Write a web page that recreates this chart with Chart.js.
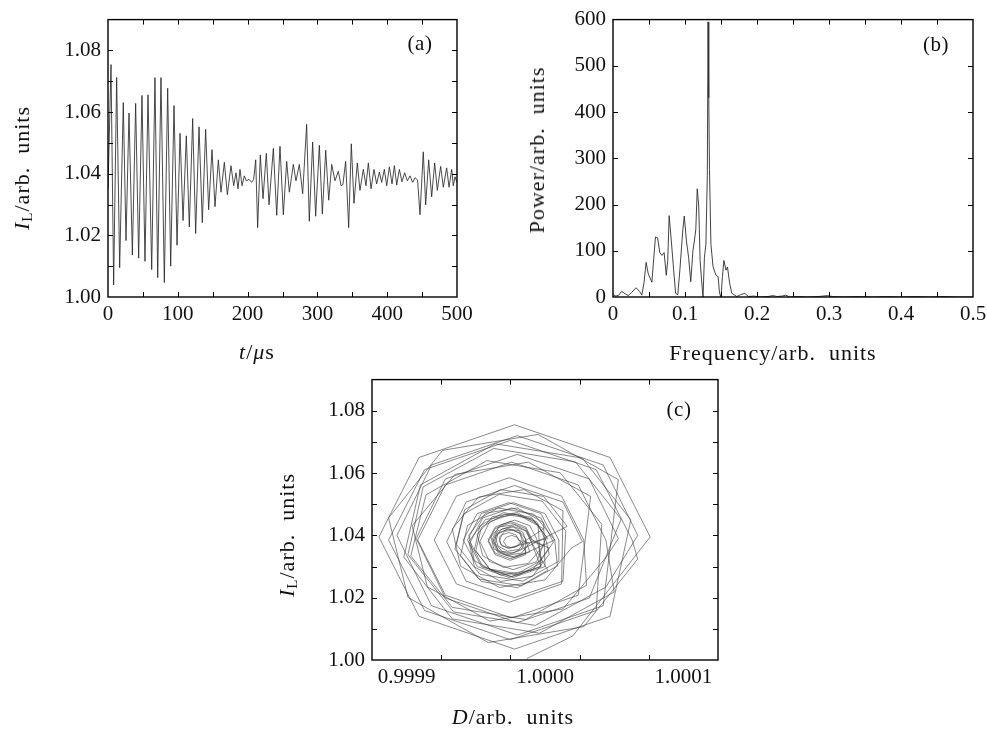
<!DOCTYPE html>
<html><head><meta charset="utf-8">
<script src="https://cdn.jsdelivr.net/npm/chart.js@4.4.1/dist/chart.umd.min.js"></script>
<style>
html,body{margin:0;padding:0;background:#fff;}
#wrap{position:relative;width:987px;height:732px;overflow:hidden;font-family:'Liberation Serif',serif;color:#111;}
canvas{position:absolute;}
.t{position:absolute;font-size:22px;white-space:nowrap;letter-spacing:1px;transform:translate(-50%,-50%);line-height:1;}
.r{transform:translate(-50%,-50%) rotate(-90deg);}
.t i{font-style:italic;}
.t sub{font-size:15px;position:relative;top:3px;vertical-align:baseline;line-height:0;}
.p{letter-spacing:0.5px;font-size:21px;}
</style></head><body>
<div id="wrap">
<canvas id="ca" width="490" height="375" style="left:0;top:0"></canvas>
<canvas id="cb" width="480" height="375" style="left:520px;top:0"></canvas>
<canvas id="cc" width="480" height="372" style="left:280px;top:360px"></canvas>
<div class="t r" style="left:22px;top:168px"><i>I</i><sub>L</sub>/arb.&nbsp; units</div>
<div class="t" style="left:257px;top:352px"><i>t</i>/<i>μ</i>s</div>
<div class="t p" style="left:420px;top:43px">(a)</div>
<div class="t r" style="left:537px;top:150px">Power/arb.&nbsp; units</div>
<div class="t" style="left:773px;top:353px">Frequency/arb.&nbsp; units</div>
<div class="t p" style="left:936px;top:44px">(b)</div>
<div class="t r" style="left:287px;top:535px"><i>I</i><sub>L</sub>/arb.&nbsp; units</div>
<div class="t" style="left:513px;top:717px"><i>D</i>/arb.&nbsp; units</div>
<div class="t p" style="left:679px;top:409px">(c)</div>
</div>
<script>
// ---- panel (a): laser intensity vs time (extrema)
const aTime = [0,4.3,8.1,12.4,16.7,21.9,25.8,30.1,34.9,39.6,
43.9,48.7,53.0,57.3,62.6,67.3,71.2,75.9,80.7,85.5,
89.8,94.6,98.9,103.2,107.5,112.2,116.5,121.3,125.6,130.4,
135.1,139.9,144.2,149.0,153.3,158.1,161.9,166.7,171.0,176.2,
180.1,183.4,186.3,189.1,192.0,195.3,198.2,202.0,205.8,208.7,
211.6,214.4,218.2,222.1,226.8,230.7,236.9,241.7,246.4,251.2,
256.0,259.8,265.5,269.3,274.1,278.9,284.6,288.4,293.2,297.5,
302.8,307.1,311.9,316.2,320.5,325.2,330.0,333.9,336.5,340.5,
344.8,348.6,352.4,357.2,361.0,365.8,369.6,373.0,376.8,381.1,
384.9,388.8,392.1,395.9,399.3,403.1,406.9,410.3,413.6,417.4,
421.2,425.0,428.9,432.7,436.5,439.9,443.5,447.0,451.7,455.1,
459.4,463.7,468.0,471.8,476.6,480.4,485.2,488.6,492.4,494.7,
497.1,500];
const aIntensity = [1.0350,1.0754,1.0039,1.0712,1.0095,1.0631,1.0183,1.0597,1.0136,1.0628,
1.0126,1.0654,1.0116,1.0656,1.0089,1.0712,1.0063,1.0712,1.0047,1.0677,
1.0100,1.0621,1.0168,1.0531,1.0248,1.0523,1.0227,1.0579,1.0206,1.0552,
1.0241,1.0544,1.0283,1.0478,1.0293,1.0445,1.0340,1.0437,1.0332,1.0426,
1.0361,1.0403,1.0351,1.0414,1.0361,1.0393,1.0377,1.0382,1.0372,1.0382,
1.0445,1.0225,1.0461,1.0319,1.0466,1.0299,1.0482,1.0265,1.0489,1.0267,
1.0440,1.0340,1.0430,1.0377,1.0430,1.0335,1.0560,1.0246,1.0503,1.0262,
1.0492,1.0269,1.0476,1.0314,1.0430,1.0377,1.0408,1.0361,1.0365,1.0440,
1.0225,1.0497,1.0304,1.0435,1.0346,1.0414,1.0361,1.0435,1.0351,1.0414,
1.0367,1.0405,1.0372,1.0414,1.0361,1.0422,1.0367,1.0426,1.0363,1.0414,
1.0374,1.0403,1.0377,1.0393,1.0372,1.0387,1.0380,1.0267,1.0471,1.0299,
1.0445,1.0325,1.0435,1.0346,1.0424,1.0356,1.0419,1.0356,1.0414,1.0361,
1.0390,1.0372];
const aXLabels = [0,100,200,300,400,500];
const aYLabels = [1.00,1.02,1.04,1.06,1.08];
const aXMarks = [50,100,150,200,250,300,350,400,450];
const aYMarks = [1.01,1.02,1.03,1.04,1.05,1.06,1.07,1.08];

// ---- panel (b): power spectrum
const bFreq = [0,0.004,0.008,0.012,0.017,0.021,0.026,0.032,0.037,0.040,
0.043,0.046,0.049,0.054,0.056,0.059,0.062,0.065,0.068,0.071,
0.074,0.076,0.078,0.081,0.085,0.087,0.090,0.093,0.097,0.099,
0.102,0.105,0.108,0.111,0.113,0.115,0.117,0.119,0.121,0.123,
0.125,0.127,0.129,0.131,0.132,0.133,0.134,0.136,0.139,0.143,
0.146,0.148,0.150,0.152,0.154,0.157,0.159,0.162,0.165,0.168,
0.172,0.177,0.183,0.188,0.195,0.205,0.215,0.222,0.228,0.235,
0.240,0.245,0.255,0.270,0.285,0.298,0.305,0.320,0.340,0.360,
0.380,0.400,0.420,0.440,0.460,0.480,0.500];
const bPower = [5,2,4,12,7,3,10,20,12,4,
30,75,50,32,72,130,128,96,90,96,
47,79,176,121,44,8,5,61,146,175,
121,86,33,100,121,146,234,199,79,37,
0,86,114,262,595,431,276,114,65,47,
44,8,0,44,79,58,65,30,8,5,
1,5,8,1,2,0,1,3,1,2,
4,0,1,0,1,3,1,0,1,0,
1,0,1,0,1,0,0];
const bXLabels = [0,0.1,0.2,0.3,0.4,0.5];
const bYLabels = [0,100,200,300,400,500,600];
const bXMarks = [0.05,0.1,0.15,0.2,0.25,0.3,0.35,0.4,0.45];
const bYMarks = [100,200,300,400,500];

// ---- panel (c): phase portrait D vs I_L (one line per loop)
const cD = [0.999987,1.000020,
1.000076,1.000047,0.999978,0.999909,0.999880,0.999909,0.999978,1.000047,
1.000062,1.000027,0.999964,0.999910,0.999898,0.999933,0.999996,1.000050,
1.000044,1.000024,0.999976,0.999928,0.999908,0.999928,0.999976,1.000024,
1.000033,0.999988,0.999935,0.999904,0.999915,0.999960,1.000013,1.000044,
1.000053,1.000032,0.999980,0.999928,0.999907,0.999928,0.999980,1.000032,
1.000055,1.000022,0.999963,0.999912,0.999901,0.999934,0.999993,1.000044,
1.000067,1.000042,0.999980,0.999918,0.999893,0.999918,0.999980,1.000042,
1.000053,0.999995,0.999926,0.999887,0.999901,0.999959,1.000028,1.000067,
1.000063,1.000037,0.999975,0.999913,0.999887,0.999913,0.999975,1.000037,
1.000041,1.000011,0.999958,0.999914,0.999903,0.999933,0.999986,1.000030,
1.000028,1.000012,0.999974,0.999936,0.999920,0.999936,0.999974,1.000012,
1.000013,0.999985,0.999952,0.999933,0.999939,0.999967,1.000000,1.000019,
1.000027,1.000013,0.999978,0.999943,0.999929,0.999943,0.999978,1.000013,
1.000015,0.999998,0.999967,0.999941,0.999935,0.999952,0.999983,1.000009,
1.000007,0.999997,0.999974,0.999951,0.999941,0.999951,0.999974,0.999997,
0.999995,0.999980,0.999962,0.999951,0.999955,0.999970,0.999988,0.999999,
0.999991,0.999986,0.999975,0.999964,0.999959,0.999964,0.999975,0.999986,
0.999986,0.999981,0.999973,0.999966,0.999964,0.999969,0.999977,0.999984,
0.999982,0.999980,0.999976,0.999972,0.999970,0.999972,0.999976,0.999980,
0.999999,0.999980,0.999957,0.999945,0.999949,0.999968,0.999991,1.000003,
1.000001,0.999994,0.999977,0.999960,0.999953,0.999960,0.999977,0.999994,
1.000001,0.999990,0.999970,0.999953,0.999949,0.999960,0.999980,0.999997,
1.000006,0.999997,0.999976,0.999955,0.999946,0.999955,0.999976,0.999997,
0.999987,0.999978,0.999967,0.999961,0.999963,0.999972,0.999983,0.999989,
0.999985,0.999982,0.999974,0.999966,0.999963,0.999966,0.999974,0.999982,
1.000016,0.999999,0.999968,0.999942,0.999936,0.999953,0.999984,1.000010,
1.000010,1.000000,0.999977,0.999954,0.999944,0.999954,0.999977,1.000000,
0.999999,0.999980,0.999957,0.999945,0.999949,0.999968,0.999991,1.000003,
0.999991,0.999986,0.999975,0.999964,0.999959,0.999964,0.999975,0.999986,
1.000007,0.999992,0.999966,0.999944,0.999939,0.999954,0.999980,1.000002,
0.999990,0.999986,0.999976,0.999966,0.999962,0.999966,0.999976,0.999986,
0.999982,0.999977,0.999971,0.999967,0.999968,0.999973,0.999979,0.999983,
0.999981,0.999979,0.999974,0.999969,0.999967,0.999969,0.999974,0.999979,
1.000002,0.999991,0.999971,0.999954,0.999950,0.999961,0.999981,0.999998,
0.999994,0.999989,0.999978,0.999967,0.999962,0.999967,0.999978,0.999989,
0.999984,0.999977,0.999969,0.999964,0.999966,0.999973,0.999981,0.999986];
const cI = [1.0005,1.0077,
1.0395,1.0650,1.0755,1.0650,1.0395,1.0140,1.0035,1.0140,
1.0450,1.0648,1.0694,1.0562,1.0330,1.0132,1.0086,1.0218,
1.0385,1.0562,1.0635,1.0562,1.0385,1.0208,1.0135,1.0208,
1.0525,1.0635,1.0596,1.0431,1.0235,1.0125,1.0164,1.0329,
1.0390,1.0581,1.0660,1.0581,1.0390,1.0199,1.0120,1.0199,
1.0452,1.0636,1.0679,1.0556,1.0338,1.0154,1.0111,1.0234,
1.0400,1.0626,1.0720,1.0626,1.0400,1.0174,1.0080,1.0174,
1.0579,1.0724,1.0673,1.0456,1.0201,1.0056,1.0107,1.0324,
1.0385,1.0611,1.0705,1.0611,1.0385,1.0159,1.0065,1.0159,
1.0436,1.0601,1.0640,1.0530,1.0334,1.0169,1.0130,1.0240,
1.0385,1.0526,1.0585,1.0526,1.0385,1.0244,1.0185,1.0244,
1.0479,1.0547,1.0523,1.0421,1.0301,1.0233,1.0257,1.0359,
1.0380,1.0507,1.0560,1.0507,1.0380,1.0253,1.0200,1.0253,
1.0414,1.0510,1.0532,1.0468,1.0356,1.0260,1.0238,1.0302,
1.0385,1.0470,1.0505,1.0470,1.0385,1.0300,1.0265,1.0300,
1.0435,1.0473,1.0460,1.0403,1.0335,1.0297,1.0310,1.0367,
1.0380,1.0422,1.0440,1.0422,1.0380,1.0338,1.0320,1.0338,
1.0390,1.0415,1.0421,1.0404,1.0374,1.0349,1.0343,1.0360,
1.0380,1.0394,1.0400,1.0394,1.0380,1.0366,1.0360,1.0366,
1.0421,1.0468,1.0451,1.0381,1.0299,1.0252,1.0269,1.0339,
1.0380,1.0444,1.0470,1.0444,1.0380,1.0316,1.0290,1.0316,
1.0395,1.0458,1.0473,1.0431,1.0355,1.0292,1.0277,1.0319,
1.0378,1.0456,1.0488,1.0456,1.0378,1.0300,1.0268,1.0300,
1.0413,1.0434,1.0427,1.0395,1.0357,1.0336,1.0343,1.0375,
1.0380,1.0408,1.0420,1.0408,1.0380,1.0352,1.0340,1.0352,
1.0429,1.0525,1.0547,1.0483,1.0371,1.0275,1.0253,1.0317,
1.0385,1.0470,1.0505,1.0470,1.0385,1.0300,1.0265,1.0300,
1.0441,1.0488,1.0471,1.0401,1.0319,1.0272,1.0289,1.0359,
1.0385,1.0427,1.0445,1.0427,1.0385,1.0343,1.0325,1.0343,
1.0385,1.0468,1.0488,1.0432,1.0335,1.0252,1.0232,1.0288,
1.0380,1.0415,1.0430,1.0415,1.0380,1.0345,1.0330,1.0345,
1.0405,1.0417,1.0413,1.0394,1.0371,1.0359,1.0363,1.0382,
1.0384,1.0402,1.0409,1.0402,1.0384,1.0366,1.0359,1.0366,
1.0390,1.0453,1.0468,1.0426,1.0350,1.0287,1.0272,1.0314,
1.0389,1.0431,1.0449,1.0431,1.0389,1.0347,1.0329,1.0347,
1.0410,1.0427,1.0421,1.0396,1.0366,1.0349,1.0355,1.0380];
const cXLabels = [0.9999,1.0000,1.0001];
const cYLabels = [1.00,1.02,1.04,1.06,1.08];
const cXMarks = [0.999925,0.999975,1.000025,1.000075];
const cYMarks = [1.01,1.02,1.03,1.04,1.05,1.06,1.07,1.08];

const FONT = 'Liberation Serif';

function framePlugin(xMarks, yMarks){
  return {
    id:'frame',
    afterDatasetsDraw(chart){
      const {ctx, chartArea:a, scales} = chart;
      ctx.save();
      ctx.strokeStyle = '#000';
      ctx.lineWidth = 1;
      const L = 5;
      ctx.beginPath();
      xMarks.forEach(v => {
        const p = Math.round(scales.x.getPixelForValue(v)) + 0.5;
        ctx.moveTo(p, a.bottom); ctx.lineTo(p, a.bottom - L);
        ctx.moveTo(p, a.top); ctx.lineTo(p, a.top + L);
      });
      yMarks.forEach(v => {
        const p = Math.round(scales.y.getPixelForValue(v)) + 0.5;
        ctx.moveTo(a.left, p); ctx.lineTo(a.left + L, p);
        ctx.moveTo(a.right, p); ctx.lineTo(a.right - L, p);
      });
      ctx.stroke();
      ctx.lineWidth = 1.4;
      ctx.strokeRect(a.left, a.top, a.right - a.left, a.bottom - a.top);
      ctx.restore();
    }
  };
}

function build(id, xs, ys, c){
  const pts = xs.map((x, i) => ({x: x, y: ys[i]}));
  return new Chart(document.getElementById(id), {
    type: 'scatter',
    data: {datasets: [{data: pts, showLine: true, pointRadius: 0, borderColor: c.color,
      borderWidth: c.lw, tension: 0, fill: false}]},
    options: {
      responsive: false, animation: false, devicePixelRatio: 1, events: [],
      layout: {padding: c.pad},
      plugins: {legend: {display: false}, tooltip: {enabled: false}},
      scales: {
        x: {type: 'linear', position: 'bottom', min: c.xmin, max: c.xmax,
          grid: {display: false, drawTicks: false}, border: {display: false},
          afterBuildTicks: s => { s.ticks = c.xLabels.map(v => ({value: v})); },
          afterFit: s => { s.height = c.xh; },
          ticks: {font: {family: FONT, size: 21}, color: '#111', padding: 5,
            maxRotation: 0, autoSkip: false, callback: c.xfmt}},
        y: {type: 'linear', position: 'left', min: c.ymin, max: c.ymax,
          grid: {display: false, drawTicks: false}, border: {display: false},
          afterBuildTicks: s => { s.ticks = c.yLabels.map(v => ({value: v})); },
          afterFit: s => { s.width = c.yw; },
          ticks: {font: {family: FONT, size: 21}, color: '#111', padding: 7,
            autoSkip: false, callback: c.yfmt}}
      }
    },
    plugins: [framePlugin(c.xMarks, c.yMarks)]
  });
}

build('ca', aTime, aIntensity, {
  color: '#2a2a2a', lw: 0.85,
  pad: {left: 0, top: 12, right: 33, bottom: 0},
  xmin: 0, xmax: 500, ymin: 1.00, ymax: 1.09,
  xh: 78, yw: 108,
  xLabels: aXLabels, yLabels: aYLabels, xMarks: aXMarks, yMarks: aYMarks,
  xfmt: v => String(v), yfmt: v => v.toFixed(2)
});

build('cb', bFreq, bPower, {
  color: '#2e2e2e', lw: 0.9,
  pad: {left: 0, top: 14, right: 27, bottom: 0},
  xmin: 0, xmax: 0.5, ymin: 0, ymax: 600,
  xh: 78, yw: 93,
  xLabels: bXLabels, yLabels: bYLabels, xMarks: bXMarks, yMarks: bYMarks,
  xfmt: v => (v === 0 ? '0' : v.toFixed(1)), yfmt: v => String(v)
});

build('cc', cD, cI, {
  color: '#3a3a3a', lw: 0.6,
  pad: {left: 0, top: 18, right: 42, bottom: 0},
  xmin: 0.999875, xmax: 1.000125, ymin: 1.00, ymax: 1.09,
  xh: 72, yw: 92,
  xLabels: cXLabels, yLabels: cYLabels, xMarks: cXMarks, yMarks: cYMarks,
  xfmt: v => v.toFixed(4), yfmt: v => v.toFixed(2)
});
</script>
</body></html>
